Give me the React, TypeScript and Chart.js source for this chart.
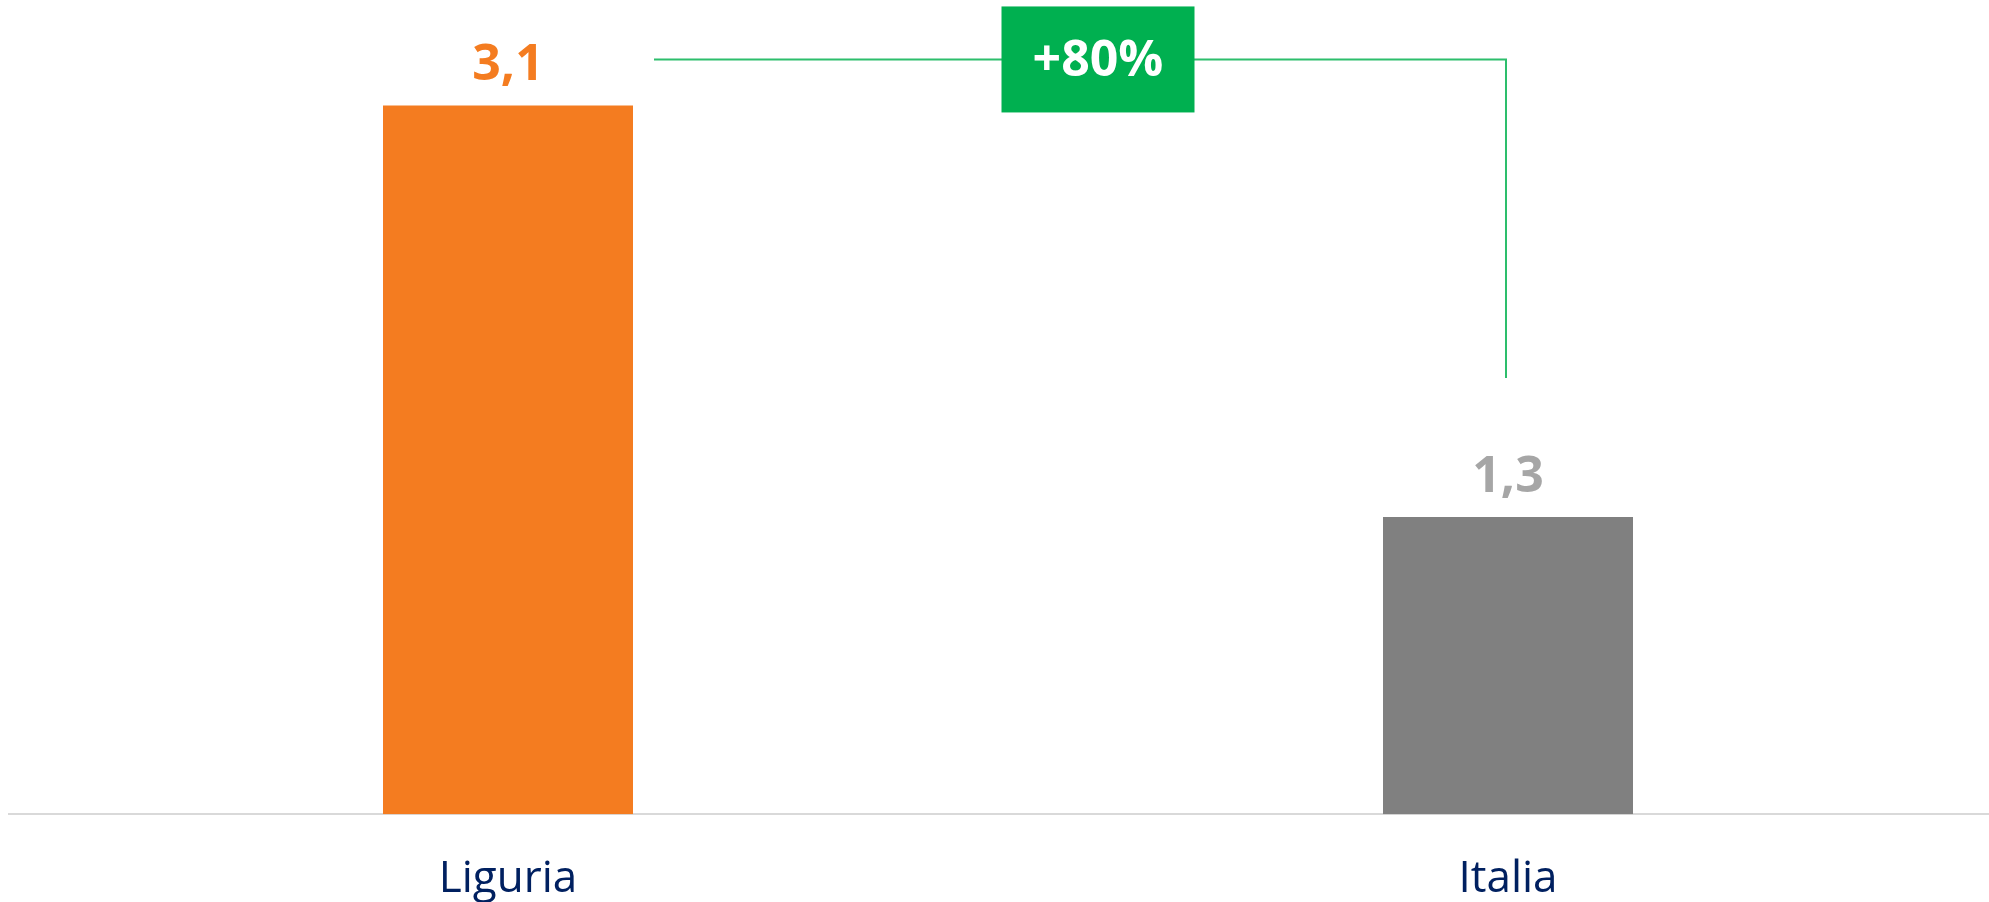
import React, { useEffect, useRef } from "react";
import { Chart, registerables } from "chart.js";

Chart.register(...registerables);

const categories: string[] = ["Liguria", "Italia"];
const values: number[] = [3.1, 1.3];
const barColors: string[] = ["#F47C20", "#808080"];
const valueLabelColors: string[] = ["#F47C20", "#A6A6A6"];
const deltaLabel = "+80%";

const FONT = "'Open Sans', 'Noto Sans', sans-serif";

const annotationPlugin = {
  id: "valueAndDelta",
  afterDatasetsDraw(chart: any) {
    const ctx = chart.ctx as CanvasRenderingContext2D;
    const meta = chart.getDatasetMeta(0);
    const bars = meta.data;
    ctx.save();
    // value labels
    ctx.font = `bold 50px ${FONT}`;
    ctx.textAlign = "center";
    ctx.textBaseline = "alphabetic";
    bars.forEach((bar: any, i: number) => {
      ctx.fillStyle = valueLabelColors[i];
      ctx.fillText(values[i].toFixed(1).replace(".", ","), bar.x, bar.y - 25);
    });
    // connector line
    const b0 = bars[0];
    const b1 = bars[1];
    const lineY = b0.y - 46;
    const startX = b0.x + 146;
    const endX = b1.x - 2;
    const bottomY = b1.y - 139;
    ctx.strokeStyle = "#2DBE6C";
    ctx.lineWidth = 2;
    ctx.beginPath();
    ctx.moveTo(startX, lineY);
    ctx.lineTo(endX, lineY);
    ctx.lineTo(endX, bottomY);
    ctx.stroke();
    // delta box
    const xScale = chart.scales.x;
    const cx = xScale.getPixelForValue(0.59);
    const bw = 193;
    const bh = 106;
    ctx.fillStyle = "#00B050";
    ctx.fillRect(cx - bw / 2, lineY - 53, bw, bh);
    ctx.fillStyle = "#FFFFFF";
    ctx.textBaseline = "middle";
    ctx.fillText(deltaLabel, cx, lineY + 2);
    ctx.restore();
  },
};

export default function App() {
  const ref = useRef<HTMLCanvasElement | null>(null);
  useEffect(() => {
    if (!ref.current) return;
    const chart = new Chart(ref.current, {
      type: "bar",
      data: {
        labels: categories,
        datasets: [
          {
            data: values,
            backgroundColor: barColors,
            borderWidth: 0,
            barPercentage: 0.5,
            categoryPercentage: 0.5,
          },
        ],
      },
      options: {
        animation: false,
        responsive: false,
        maintainAspectRatio: false,
        layout: { padding: { top: 14, bottom: 0, left: 0, right: 0 } },
        plugins: {
          legend: { display: false },
          tooltip: { enabled: false },
        },
        scales: {
          x: {
            grid: { display: false, drawTicks: false },
            border: { display: true, color: "#D9D9D9", width: 2 },
            ticks: {
              color: "#002060",
              font: { family: FONT, size: 44 },
              padding: 39,
            },
          },
          y: {
            display: false,
            min: 0,
            max: 3.5,
          },
        },
      },
      plugins: [annotationPlugin],
    });
    return () => chart.destroy();
  }, []);
  return (
    <div
      style={{
        position: "absolute",
        left: 0,
        top: 0,
        width: 1989,
        height: 902,
        overflow: "hidden",
        background: "#FFFFFF",
      }}
    >
      <canvas
        ref={ref}
        width={2000}
        height={945}
        style={{ position: "absolute", left: 8, top: 0, width: 2000, height: 945 }}
      />
    </div>
  );
}
